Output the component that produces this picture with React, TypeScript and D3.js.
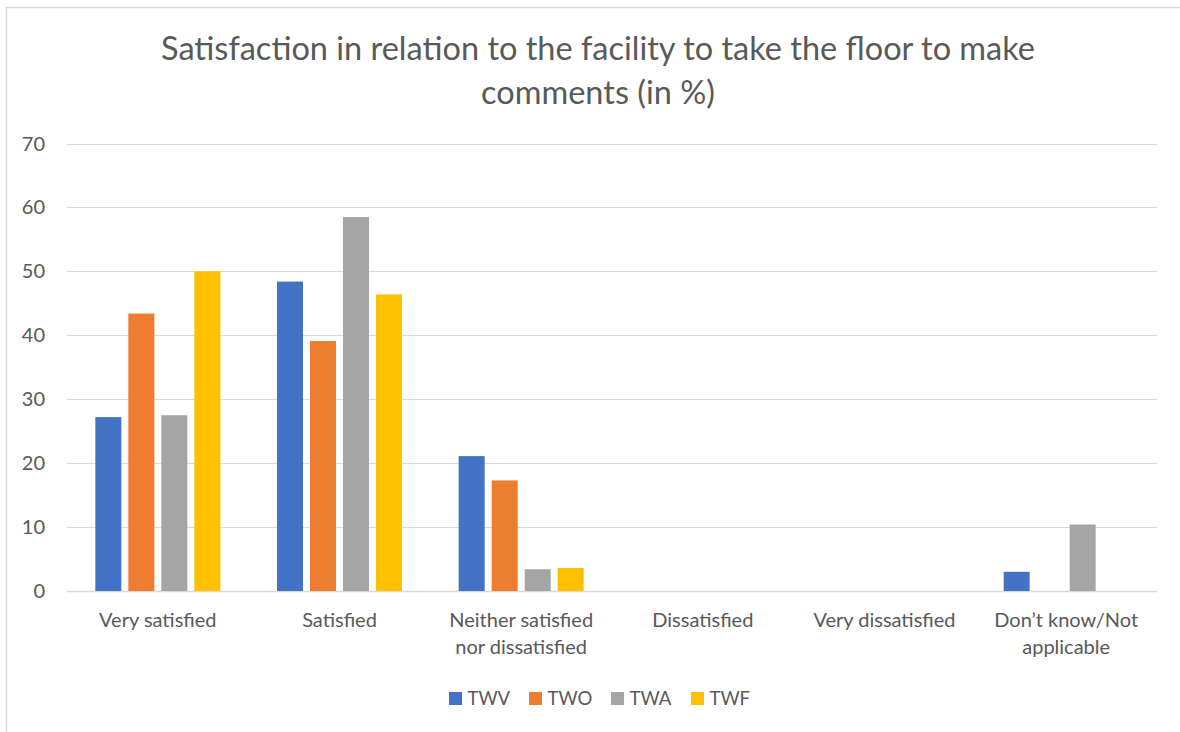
import React from "react";
import * as d3 from "d3";

const categories = [
  ["Very satisfied"],
  ["Satisfied"],
  ["Neither satisfied", "nor dissatisfied"],
  ["Dissatisfied"],
  ["Very dissatisfied"],
  ["Don\u2019t know/Not", "applicable"],
];
const seriesNames = ["TWV", "TWO", "TWA", "TWF"];
const seriesColors = ["#4472C4", "#ED7D31", "#A5A5A5", "#FFC000"];
const TWV = [27.2, 48.4, 21.1, 0, 0, 3.0];
const TWO = [43.4, 39.1, 17.3, 0, 0, 0];
const TWA = [27.5, 58.5, 3.4, 0, 0, 10.4];
const TWF = [50.0, 46.4, 3.6, 0, 0, 0];
const seriesValues = [TWV, TWO, TWA, TWF];
const yTicks = [0, 10, 20, 30, 40, 50, 60, 70];
const titleLines = ["Satisfaction in relation to the facility to take the floor to make", "comments (in %)"];

const W = 1180;
const H = 732;
const FONT = "Lato, 'Open Sans', sans-serif";
const TEXT = "#595959";

export default function App() {
  const keys = categories.map((c) => c.join(" "));
  const x0 = d3.scaleBand<string>().domain(keys).range([67, 1157]).paddingInner(0).paddingOuter(0);
  const x1 = d3.scaleBand<string>().domain(seriesNames).range([-62.5, 62.5]).paddingInner(7 / 33).paddingOuter(0);
  const y = d3.scaleLinear().domain([0, 70]).range([591, 143.5]);

  const legendX = [449, 529, 611, 691];

  return (
    <div style={{ position: "fixed", left: 0, top: 0, width: W, height: H, overflow: "hidden" }}>
      <svg width={W} height={H} style={{ display: "block", background: "#fff" }} fontFamily={FONT}>
        <rect x={6.5} y={7.5} width={W + 20} height={H + 20} fill="#fff" stroke="#d9d9d9" strokeWidth={1.5} />
        {titleLines.map((t, i) => (
          <text key={i} x={598} y={60 + i * 44} textAnchor="middle" fontSize={32.5} fill={TEXT}>
            {t}
          </text>
        ))}
        {yTicks.map((t) => (
          <g key={t}>
            <line x1={67} x2={1157} y1={Math.round(y(t)) + 0.5} y2={Math.round(y(t)) + 0.5} stroke="#d9d9d9" strokeWidth={t === 0 ? 1.5 : 1} />
            <text x={45} y={y(t) + 7} textAnchor="end" fontSize={20} fill={TEXT}>
              {t}
            </text>
          </g>
        ))}
        {categories.map((c, ci) => {
          const cx = (x0(keys[ci]) as number) + x0.bandwidth() / 2;
          return (
            <g key={ci}>
              {seriesValues.map((vals, si) =>
                vals[ci] > 0 ? (
                  <rect
                    key={si}
                    x={cx + (x1(seriesNames[si]) as number)}
                    y={y(vals[ci])}
                    width={x1.bandwidth()}
                    height={y(0) - y(vals[ci])}
                    fill={seriesColors[si]}
                  />
                ) : null
              )}
              {c.map((line, li) => (
                <text key={li} x={cx} y={627 + li * 27} textAnchor="middle" fontSize={20} fill={TEXT}>
                  {line}
                </text>
              ))}
            </g>
          );
        })}
        {seriesNames.map((s, i) => (
          <g key={s}>
            <rect x={legendX[i]} y={692} width={13} height={13} fill={seriesColors[i]} />
            <text x={legendX[i] + 18.5} y={705} fontSize={18.5} fill={TEXT}>
              {s}
            </text>
          </g>
        ))}
      </svg>
    </div>
  );
}
